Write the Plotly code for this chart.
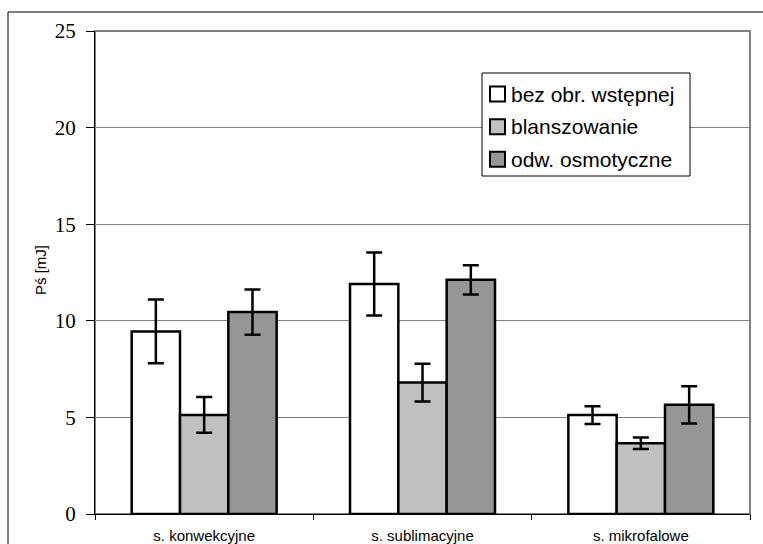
import plotly.graph_objects as go

# Drying methods (categories) and pretreatment series
categories = ["s. konwekcyjne", "s. sublimacyjne", "s. mikrofalowe"]
series_names = ["bez obr. wstępnej", "blanszowanie", "odw. osmotyczne"]

# Mean values [mJ] per series
bez_obr = [9.45, 11.9, 5.12]
blansz = [5.13, 6.8, 3.66]
osmot = [10.45, 12.12, 5.65]

# Error bar half-ranges [mJ]
bez_obr_err = [1.65, 1.63, 0.46]
blansz_err = [0.92, 0.98, 0.30]
osmot_err = [1.17, 0.76, 0.96]

y_ticks = [0, 5, 10, 15, 20, 25]

fills = ["#FFFFFF", "#C0C0C0", "#969696"]
values = [bez_obr, blansz, osmot]
errors = [bez_obr_err, blansz_err, osmot_err]

W, H = 763, 544
ML, MR, MT, MB = 95, 13, 31, 30
PW, PH = W - ML - MR, H - MT - MB

fig = go.Figure()
for name, vals, errs, col in zip(series_names, values, errors, fills):
    fig.add_trace(go.Bar(
        x=categories, y=vals, name=name,
        marker=dict(color=col, line=dict(color="black", width=2.5)),
        error_y=dict(type="data", array=errs, visible=True,
                     color="black", thickness=2.5, width=8),
    ))


def px_x(p):
    return (p - ML) / PW


def px_y(p):
    return (H - MB - p) / PH


shapes = [
    # plot area frame (gray)
    dict(type="rect", xref="paper", yref="paper", x0=0, x1=1, y0=0, y1=1,
         line=dict(color="#808080", width=2), layer="below"),
    # outer chart frame
    dict(type="rect", xref="paper", yref="paper",
         x0=px_x(8), x1=px_x(800), y0=px_y(580), y1=px_y(12),
         line=dict(color="black", width=1), layer="below"),
    # legend box
    dict(type="rect", xref="paper", yref="paper",
         x0=px_x(482), x1=px_x(690), y0=px_y(176), y1=px_y(73),
         fillcolor="white", line=dict(color="black", width=1), layer="above"),
]

annotations = [
    dict(text="Pś [mJ]", xref="paper", yref="paper", x=px_x(40), y=px_y(270),
         textangle=-90, showarrow=False, xanchor="center", yanchor="middle",
         font=dict(family="Liberation Sans", size=15, color="black")),
]

# legend entries: swatch + label
row_centers = [94, 126.7, 159.3]
for name, col, cy in zip(series_names, fills, row_centers):
    shapes.append(dict(
        type="rect", xref="paper", yref="paper",
        x0=px_x(490), x1=px_x(505), y0=px_y(cy + 7.5), y1=px_y(cy - 7.5),
        fillcolor=col, line=dict(color="black", width=2), layer="above"))
    annotations.append(dict(
        text=name, xref="paper", yref="paper", x=px_x(509), y=px_y(cy),
        xanchor="left", yanchor="middle", showarrow=False,
        font=dict(family="Liberation Sans", size=21, color="black")))

fig.update_layout(
    width=W, height=H,
    margin=dict(l=ML, r=MR, t=MT, b=MB, pad=0),
    paper_bgcolor="white", plot_bgcolor="white",
    barmode="group", bargap=0.336, bargroupgap=0,
    showlegend=False,
    shapes=shapes,
    annotations=annotations,
    xaxis=dict(
        type="category", range=[-0.5, 2.5], automargin=False,
        showline=True, linecolor="black", linewidth=1,
        ticks="outside", tickson="boundaries", ticklen=5, tickcolor="black",
        tickfont=dict(family="Liberation Sans", size=15, color="black"),
        ticklabelstandoff=8,
        showgrid=False, zeroline=False,
    ),
    yaxis=dict(
        range=[0, 25], tickvals=y_ticks, automargin=False,
        showline=True, linecolor="black", linewidth=1,
        ticks="outside", ticklen=8, tickcolor="black",
        tickfont=dict(family="Liberation Serif", size=21, color="black"),
        ticklabelstandoff=6,
        showgrid=True, gridcolor="#808080", gridwidth=1,
        zeroline=False,
    ),
)

fig.write_html("out.html")
